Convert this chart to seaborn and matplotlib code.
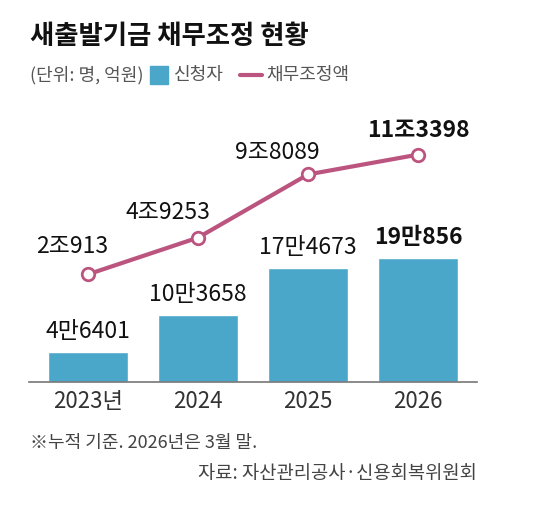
import matplotlib
matplotlib.use('Agg')
import matplotlib.pyplot as plt
import seaborn as sns
from matplotlib.patches import Rectangle
from matplotlib.lines import Line2D

# data
years = ['2023년', '2024', '2025', '2026']
applicants = [46401, 103658, 174673, 190856]          # 명
applicant_labels = ['4만6401', '10만3658', '17만4673', '19만856']
debt_amount = [20913, 49253, 98089, 113398]            # 억원
debt_labels = ['2조913', '4조9253', '9조8089', '11조3398']

bar_color = '#4aa7c9'
line_color = '#bb5580'

sns.set_theme(style='white')
plt.rcParams['font.family'] = ['Noto Sans CJK KR', 'DejaVu Sans']

W, H = 550, 532
fig = plt.figure(figsize=(W / 100, H / 100), dpi=100)
fig.patch.set_facecolor('white')

ax = fig.add_axes([29 / W, 150 / H, 448 / W, 262 / H])
sns.barplot(x=years, y=applicants, color=bar_color, saturation=1, width=0.72, ax=ax)
ax.set_xlim(-0.536, 3.536)
ax.set_ylim(0, 403000)
ax.set_xlabel('')
ax.set_ylabel('')
ax.set_yticks([])
for s in ['top', 'right', 'left']:
    ax.spines[s].set_visible(False)
ax.spines['bottom'].set_color('#777777')
ax.spines['bottom'].set_linewidth(1.2)
ax.tick_params(axis='x', length=0, pad=6, labelsize=16, labelcolor='#333333')

# bar value labels
for i, (v, lab) in enumerate(zip(applicants, applicant_labels)):
    ax.annotate(lab, (i, v), xytext=(0, 9), textcoords='offset pixels',
                ha='center', va='bottom', fontsize=16.5, color='#111111',
                fontweight='bold' if i == 3 else 'medium')

# line on twin axis
ax2 = ax.twinx()
sns.lineplot(x=list(range(4)), y=debt_amount, color=line_color, linewidth=3, ax=ax2,
             marker='o', markersize=9, markerfacecolor='white',
             markeredgecolor=line_color, markeredgewidth=2)
ax2.set_ylim(-62270, 140150)
ax2.set_xlim(-0.536, 3.536)
ax2.set_yticks([])
ax2.set_ylabel('')
for s in ax2.spines.values():
    s.set_visible(False)

offsets = [(-16, 16), (-30, 14), (-31, 10), (0, 13)]
for i, (v, lab) in enumerate(zip(debt_amount, debt_labels)):
    ax2.annotate(lab, (i, v), xytext=offsets[i], textcoords='offset pixels',
                 ha='center', va='bottom', fontsize=16.5, color='#111111',
                 fontweight='bold' if i == 3 else 'medium')

# title
fig.text(30 / W, 1 - 23 / H, '새출발기금 채무조정 현황', ha='left', va='top',
         fontsize=19, fontweight='black', color='#111111')

# legend row
ly = 1 - 75 / H
fig.text(30 / W, ly, '(단위: 명, 억원)', ha='left', va='center', fontsize=13, color='#555555')
fig.patches.append(Rectangle((150 / W, ly - 9 / H), 18 / W, 18 / H, color=bar_color,
                             transform=fig.transFigure))
fig.text(174 / W, ly, '신청자', ha='left', va='center', fontsize=13, color='#555555')
fig.lines.append(Line2D([240 / W, 262 / W], [ly, ly], color=line_color, linewidth=3,
                        transform=fig.transFigure))
fig.text(266 / W, ly, '채무조정액', ha='left', va='center', fontsize=13, color='#555555')

# notes
fig.text(30 / W, 1 - 443 / H, '※누적 기준. 2026년은 3월 말.', ha='left', va='center',
         fontsize=13, color='#444444')
fig.text(477 / W, 1 - 473 / H, '자료: 자산관리공사·신용회복위원회', ha='right', va='center',
         fontsize=13.5, color='#444444')

fig.savefig('out.png', dpi=100, facecolor='white')
